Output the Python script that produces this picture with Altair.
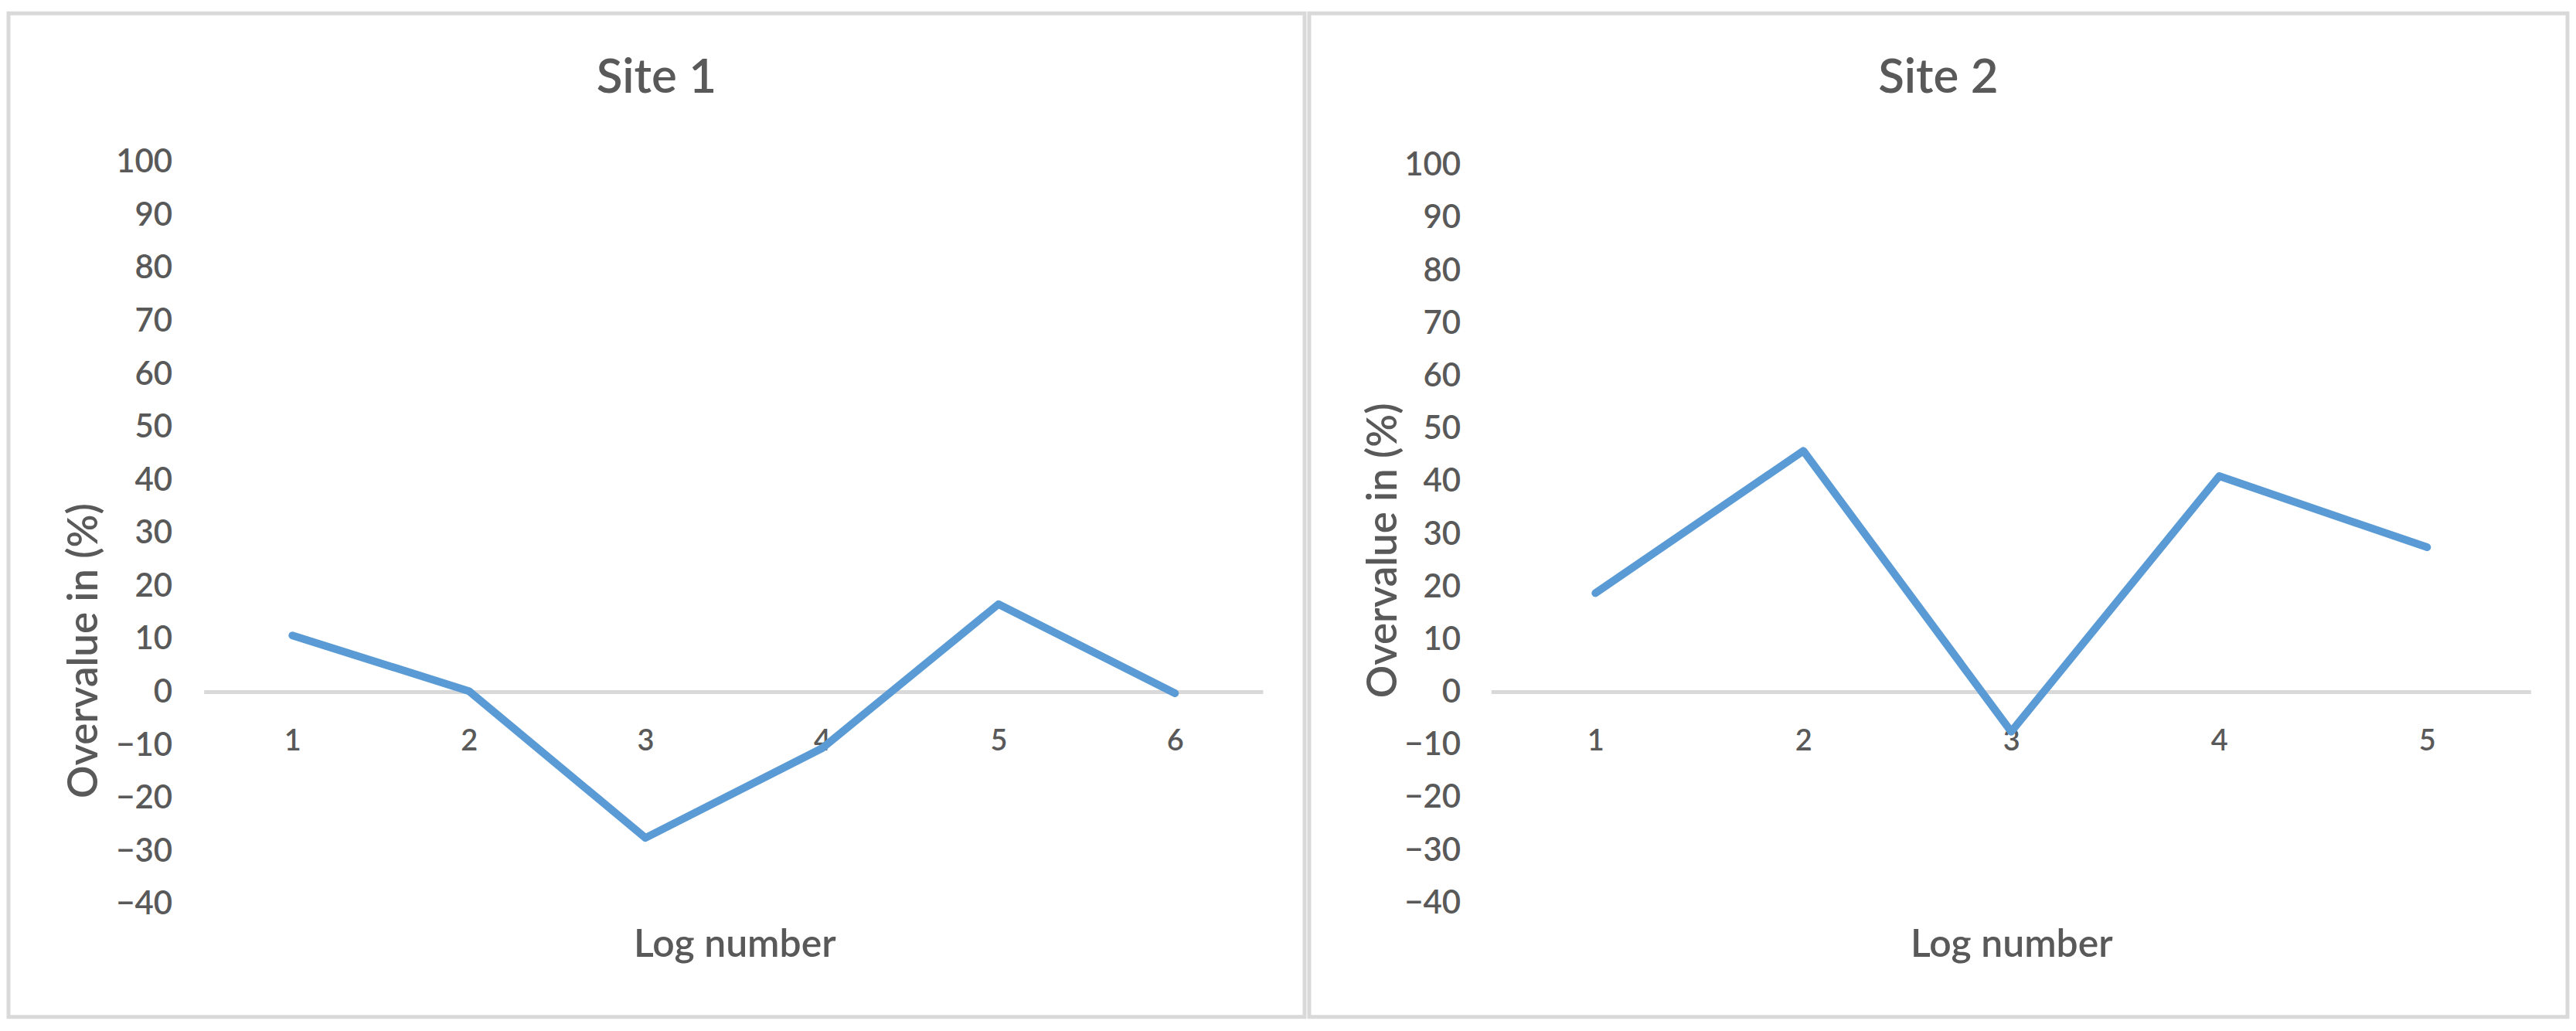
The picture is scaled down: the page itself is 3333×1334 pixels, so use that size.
import altair as alt
import pandas as pd

# ---- data ----
site1_logs = [1, 2, 3, 4, 5, 6]
site1_overvalue = [10.7, 0.2, -27.5, -10.6, 16.6, -0.2]
site2_logs = [1, 2, 3, 4, 5]
site2_overvalue = [18.8, 45.8, -7.5, 41.0, 27.5]
y_tick_values = [-40, -30, -20, -10, 0, 10, 20, 30, 40, 50, 60, 70, 80, 90, 100]
panel_titles = ["Site 1", "Site 2"]
x_title = "Log number"
y_title = "Overvalue in (%)"

FONT = "Lato, sans-serif"
TEXT = "#595959"
LINE = "#5B9BD5"
GRIDC = "#D9D9D9"
WEIGHT = 600

H = 1301        # panel (box) height
ZERO_Y = 880    # pixel row of the zero line inside a panel


def panel(title, logs, vals, width, first_center, step, px_per_unit,
          ylab_right, ytitle_x, ytitle_y, xtitle_x):
    df = pd.DataFrame({"log": logs, "val": vals})
    rule_df = pd.DataFrame({"start": [min(logs) - 0.5],
                            "end": [max(logs) + 0.5],
                            "zero": [0]})
    x0 = logs[0] - first_center / step
    x1 = x0 + width / step
    y_top = ZERO_Y / px_per_unit
    y_bot = -(H - ZERO_Y) / px_per_unit
    xscale = alt.Scale(domain=[x0, x1], nice=False, zero=False)
    yscale = alt.Scale(domain=[y_bot, y_top], nice=False, zero=False)

    xaxis = alt.Axis(values=logs, format="d", orient="bottom",
                     offset=-(H - ZERO_Y), domain=False, ticks=False, grid=False,
                     labelFont=FONT, labelFontSize=38, labelColor=TEXT,
                     labelFontWeight=WEIGHT,
                     labelPadding=75, labelBaseline="alphabetic", labelAlign="center",
                     labelFlush=False, labelOverlap=False,
                     title=x_title, titleFont=FONT, titleFontSize=50,
                     titleColor=TEXT, titleFontWeight=WEIGHT,
                     titleX=xtitle_x, titleY=343, titleBaseline="alphabetic",
                     titleAlign="center")
    yaxis = alt.Axis(values=y_tick_values, orient="left", offset=-ylab_right,
                     domain=False, ticks=False, grid=False,
                     labelFont=FONT, labelFontSize=42, labelColor=TEXT,
                     labelFontWeight=WEIGHT,
                     labelPadding=0, labelFlush=False, labelOverlap=False,
                     title=y_title, titleFont=FONT, titleFontSize=53,
                     titleColor=TEXT, titleFontWeight=WEIGHT, titleAngle=270,
                     titleX=ytitle_x, titleY=ytitle_y, titleAlign="center",
                     titleBaseline="middle")

    rule = alt.Chart(rule_df).mark_rule(color=GRIDC, strokeWidth=5).encode(
        x=alt.X("start:Q", scale=xscale, axis=xaxis),
        x2="end:Q",
        y=alt.Y("zero:Q", scale=yscale, axis=yaxis),
    )
    line = alt.Chart(df).mark_line(color=LINE, strokeWidth=10,
                                   strokeJoin="round", strokeCap="round").encode(
        x=alt.X("log:Q", scale=xscale, axis=xaxis),
        y=alt.Y("val:Q", scale=yscale, axis=yaxis),
    )
    return alt.layer(rule, line).properties(
        width=width, height=H,
        title=alt.TitleParams(text=title, font=FONT, fontSize=62, color=TEXT,
                              fontWeight=WEIGHT, anchor="middle", frame="group",
                              offset=-165, baseline="alphabetic"),
    )


left = panel(panel_titles[0], site1_logs, site1_overvalue, 1680, 368, 228.8, 6.87,
             212, -113, 826, 941)
right = panel(panel_titles[1], site2_logs, site2_overvalue, 1631, 371, 269.5, 6.83,
              196, -99, 696, 910)

chart = alt.hconcat(left, right, spacing=0).properties(
    padding={"left": 0, "top": 5, "right": 0, "bottom": 0},
    background="white",
).configure_view(stroke=GRIDC, strokeWidth=5, fill="white")

chart.save("out.html", embed_options={"renderer": "svg", "actions": False})
